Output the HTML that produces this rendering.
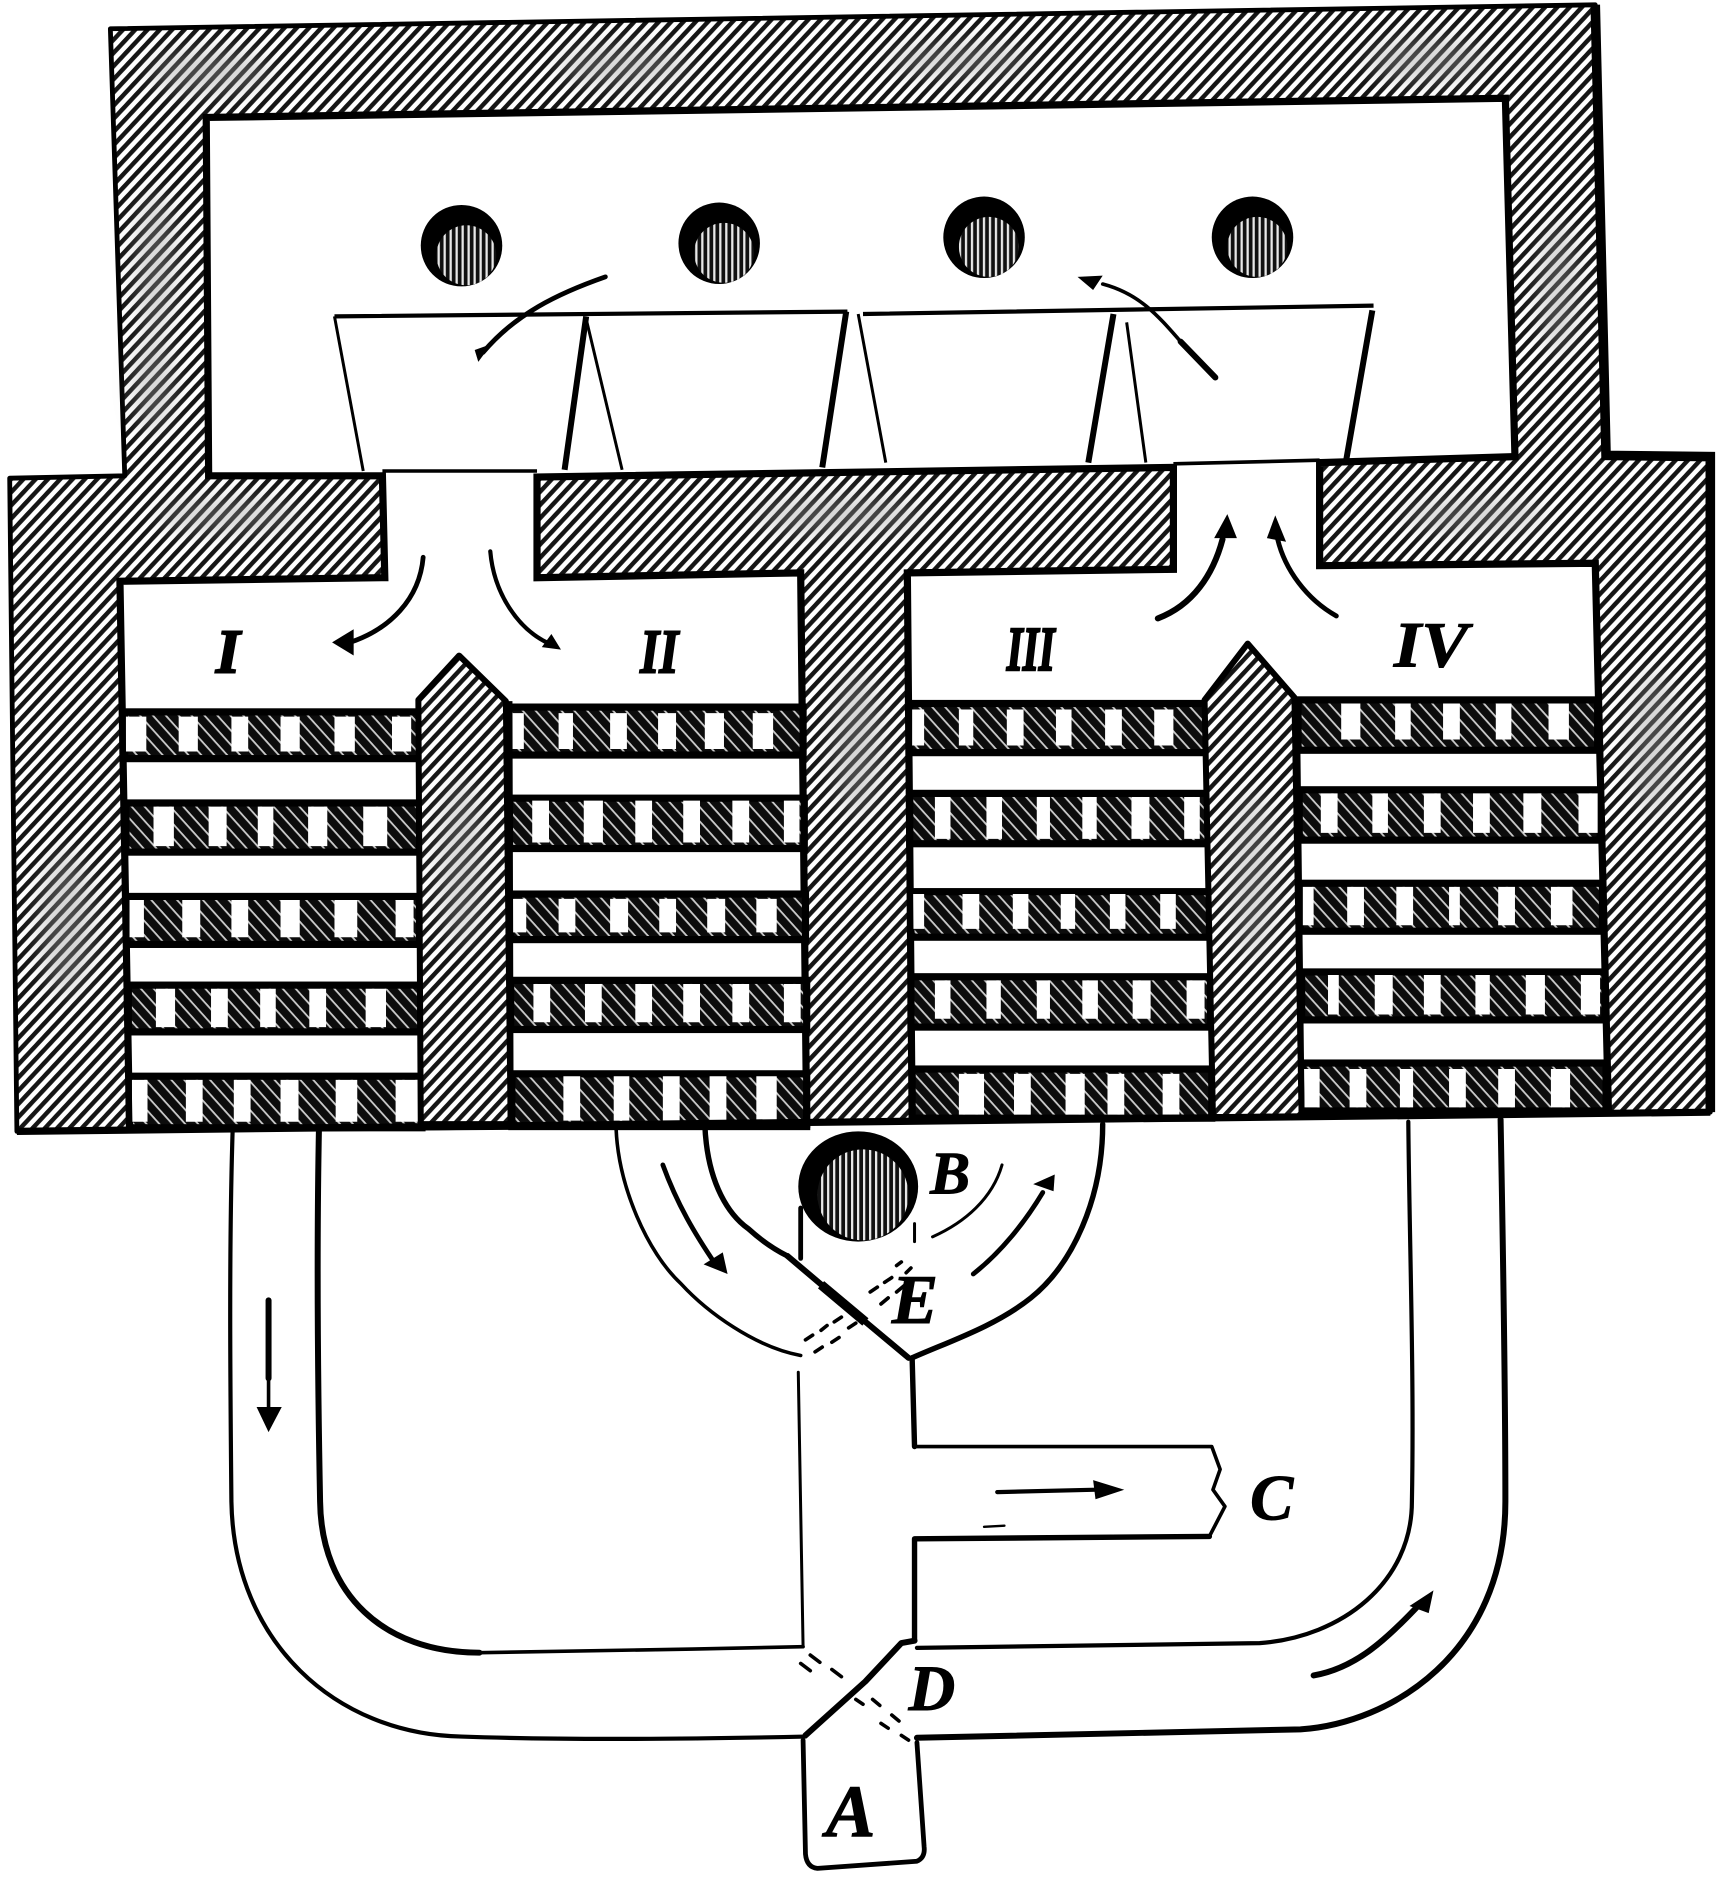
<!DOCTYPE html>
<html><head><meta charset="utf-8"><style>
html,body{margin:0;padding:0;background:#fff;width:1726px;height:1878px;overflow:hidden}
svg{display:block}
text{font-family:"Liberation Serif",serif;font-weight:bold;font-style:italic;fill:#000;stroke:#000;stroke-width:.8}
</style></head><body>
<svg width="1726" height="1878" viewBox="0 0 1440 1567" xmlns="http://www.w3.org/2000/svg">
<defs>
<pattern id="h" width="7.5" height="7.5" patternUnits="userSpaceOnUse" patternTransform="rotate(-47)">
<rect width="7.5" height="7.5" fill="#fff"/><rect width="7.5" height="3.7" fill="#151515"/></pattern>
<pattern id="x" width="8" height="8" patternUnits="userSpaceOnUse" patternTransform="rotate(48)">
<rect width="8" height="8" fill="#0c0c0c"/><rect width="8" height="1.5" fill="#ccc"/></pattern>
<pattern id="v" width="5" height="5" patternUnits="userSpaceOnUse">
<rect width="5" height="5" fill="#111"/><rect width="1.9" height="5" fill="#e8e8e8"/></pattern>
<filter id="b" x="-50%" y="-50%" width="200%" height="200%"><feGaussianBlur stdDeviation="9"/></filter>
</defs>
<rect width="1440" height="1567" fill="#fff"/>

<!-- masonry -->
<path d="M92 24L1331 4L1340 380L1427 381L1427 928L14 944L8 399L104 397Z" fill="url(#h)" stroke="#000" stroke-width="4" stroke-linejoin="round"/>
<g fill="#9a9a9a" opacity=".4" filter="url(#b)">
<ellipse cx="175" cy="60" rx="50" ry="18"/><ellipse cx="520" cy="55" rx="55" ry="16"/><ellipse cx="800" cy="50" rx="60" ry="14"/><ellipse cx="1190" cy="50" rx="50" ry="18"/>
<ellipse cx="130" cy="220" rx="16" ry="60"/><ellipse cx="128" cy="320" rx="16" ry="40"/><ellipse cx="1300" cy="240" rx="16" ry="55"/>
<ellipse cx="55" cy="770" rx="22" ry="60"/><ellipse cx="190" cy="430" rx="60" ry="14"/><ellipse cx="700" cy="430" rx="70" ry="16"/><ellipse cx="1230" cy="430" rx="60" ry="14"/>
<ellipse cx="385" cy="700" rx="22" ry="70"/><ellipse cx="715" cy="620" rx="20" ry="60"/><ellipse cx="1045" cy="720" rx="20" ry="70"/><ellipse cx="1380" cy="620" rx="20" ry="60"/>
</g>
<path d="M1331 4L1340 380L1427 381L1427 928" fill="none" stroke="#000" stroke-width="8"/>
<path d="M172 98L1256 82L1264 381L1101 386L1101 472L1331 470L1342 928L761 934L757 478L979 475L979 390L448 398L448 482L668 478L673 938L108 942L100 485L321 482L319 397L174 397Z" fill="#fff" stroke="#000" stroke-width="6" stroke-linejoin="miter"/>
<path d="M319 393L448 393M979 387L1101 384" stroke="#000" stroke-width="3" fill="none"/>

<!-- grids -->
<g stroke="#000" stroke-width="6" fill="url(#x)">
<rect x="104" y="594" width="246" height="39"/><rect x="105" y="670" width="245" height="41"/><rect x="106" y="748" width="244" height="40"/><rect x="107" y="822" width="244" height="39"/><rect x="108" y="898" width="244" height="43"/>
<rect x="424" y="590" width="246" height="40"/><rect x="425" y="666" width="246" height="42"/><rect x="426" y="746" width="246" height="38"/><rect x="426" y="818" width="247" height="41"/><rect x="427" y="896" width="246" height="44"/>
<rect x="759" y="587" width="248" height="41"/><rect x="759" y="662" width="249" height="42"/><rect x="760" y="744" width="249" height="38"/><rect x="760" y="815" width="250" height="42"/><rect x="761" y="892" width="250" height="41"/>
<rect x="1083" y="584" width="250" height="42"/><rect x="1084" y="659" width="251" height="42"/><rect x="1085" y="737" width="252" height="40"/><rect x="1086" y="811" width="253" height="40"/><rect x="1087" y="887" width="253" height="40"/>
</g>
<g stroke="#fff" fill="none">
<path stroke-width="29" d="M105 612.5H122M149 612.5H165M193 612.5H207M234 612.5H250M279 612.5H296M327 612.5H343"/>
<path stroke-width="33" d="M128 689.5H145M174 689.5H189M215 689.5H228M257 689.5H273M303 689.5H323"/>
<path stroke-width="31" d="M108 766.5H120M152 766.5H167M193 766.5H207M234 766.5H250M279 766.5H298M330 766.5H345"/>
<path stroke-width="32" d="M130 841H146M176 841H190M217 841H230M258 841H272M305 841H322"/>
<path stroke-width="35" d="M110 918.5H123M155 918.5H169M195 918.5H209M234 918.5H249M280 918.5H298M330 918.5H349"/>

<path stroke-width="30" d="M427 610H437M466 610H478M509 610H523M549 610H564M588 610H604M628 610H645"/>
<path stroke-width="35" d="M444 685.5H458M487 685.5H503M530 685.5H544M570 685.5H584M611 685.5H625M654 685.5H667"/>
<path stroke-width="28" d="M428 764H439M466 764H480M509 764H524M550 764H564M590 764H605M631 764H648"/>
<path stroke-width="32" d="M445 837H459M488 837H502M530 837H544M570 837H584M611 837H625M654 837H668"/>
<path stroke-width="37" d="M470 916.5H484M512 916.5H525M553 916.5H567M592 916.5H606M631 916.5H648"/>

<path stroke-width="30" d="M761 607H771M800 607H812M840 607H854M881 607H894M922 607H936M963 607H979"/>
<path stroke-width="35" d="M780 682.5H793M823 682.5H836M865 682.5H876M903 682.5H915M944 682.5H959M988 682.5H1001"/>
<path stroke-width="29" d="M761 760.5H771M803 760.5H817M845 760.5H858M885 760.5H897M926 760.5H939M968 760.5H981"/>
<path stroke-width="32" d="M780 834H793M823 834H835M865 834H876M903 834H916M945 834H960M990 834H1005"/>
<path stroke-width="34" d="M800 913H821M846 913H860M889 913H905M924 913H938M970 913H984"/>

<path stroke-width="30" d="M1119 602H1135M1164 602H1177M1204 602H1218M1248 602H1261M1292 602H1309"/>
<path stroke-width="33" d="M1102 678.5H1116M1145 678.5H1158M1188 678.5H1202M1229 678.5H1243M1271 678.5H1286M1317 678.5H1333"/>
<path stroke-width="32" d="M1087 756H1096M1124 756H1138M1165 756H1179M1209 756H1218M1250 756H1264M1294 756H1312"/>
<path stroke-width="33" d="M1108 830H1117M1147 830H1162M1188 830H1202M1231 830H1243M1273 830H1289M1319 830H1335"/>
<path stroke-width="32" d="M1087 908H1101M1126 908H1140M1168 908H1179M1209 908H1223M1250 908H1264M1294 908H1310"/>
</g>

<!-- piers -->
<path d="M349 584L383 547L422 585L426 938L351 938Z" fill="url(#h)" stroke="#000" stroke-width="5" stroke-linejoin="round"/>
<path d="M1005 584L1041 537L1080 582L1086 932L1012 932Z" fill="url(#h)" stroke="#000" stroke-width="5" stroke-linejoin="round"/>
<g fill="#9a9a9a" opacity=".35" filter="url(#b)"><ellipse cx="385" cy="720" rx="20" ry="70"/><ellipse cx="1045" cy="730" rx="20" ry="70"/></g>
<path d="M14 944L1427 928" stroke="#000" stroke-width="6" fill="none"/>
<path d="M425 585L426 938M1082 584L1086 932M100 485L108 942M757 478L761 934" stroke="#000" stroke-width="5" fill="none"/>

<!-- flues -->
<g fill="none" stroke="#000" stroke-linejoin="round">
<path stroke-width="3.5" d="M279 264L707 260M720 262L1146 255"/>
<path stroke-width="2.5" d="M279 264L303 393M489 266L519 392M716 262L739 386M940 269L956 386"/>
<path stroke-width="5" d="M489 264L471 392M706 260L686 390M929 262L908 386M1145 259L1123 385"/>
</g>

<!-- fire pipes -->
<circle cx="385" cy="205" r="34" fill="#000"/><circle cx="389" cy="213" r="25" fill="url(#v)"/>
<circle cx="600" cy="203" r="34" fill="#000"/><circle cx="604" cy="211" r="25" fill="url(#v)"/>
<circle cx="821" cy="198" r="34" fill="#000"/><circle cx="825" cy="206" r="25" fill="url(#v)"/>
<circle cx="1045" cy="198" r="34" fill="#000"/><circle cx="1049" cy="206" r="25" fill="url(#v)"/>
<ellipse cx="716" cy="990" rx="50" ry="46" fill="#000"/><circle cx="720" cy="997" r="38" fill="url(#v)"/>

<!-- arrows -->
<g fill="none" stroke="#000" stroke-linecap="round">
<path stroke-width="4" d="M505 231C465 245 430 262 403 294"/>
<path stroke-width="3" d="M920 237C950 245 965 262 985 285"/>
<path stroke-width="5" d="M985 285L1014 315"/>
<path stroke-width="4" d="M353 465C350 500 325 525 292 536"/>
<path stroke-width="3.5" d="M409 460C412 495 432 525 458 537"/>
<path stroke-width="5" d="M966 516C995 505 1012 480 1020 450"/>
<path stroke-width="4" d="M1115 514C1090 500 1072 475 1066 450"/>
<path stroke-width="5" d="M224 1085L224 1150"/>
<path stroke-width="3" d="M224 1150L224 1178"/>
<path stroke-width="4" d="M553 972C565 1005 580 1030 597 1055"/>
<path stroke-width="4" d="M812 1063C835 1045 855 1020 870 995"/>
<path stroke-width="2.5" d="M778 1032C805 1020 828 1000 836 972"/>
<path stroke-width="3.5" d="M832 1245L915 1243"/>
<path stroke-width="5" d="M1096 1398C1130 1392 1155 1370 1185 1338"/>
</g>
<g fill="#000">
<path d="M399 302L396 292L410 287Z"/>
<path d="M899 231L920 230L912 242Z"/>
<path d="M277 536L295 525L295 547Z"/>
<path d="M468 542L452 540L460 529Z"/>
<path d="M1024 429L1032 449L1013 449Z"/>
<path d="M1064 430L1073 452L1057 449Z"/>
<path d="M224 1195L214 1174L235 1174Z"/>
<path d="M607 1063L587 1055L603 1045Z"/>
<path d="M880 980L879 994L862 988Z"/>
<path d="M938 1243L912 1235L914 1251Z"/>
<path d="M1196 1327L1192 1346L1176 1340Z"/>
</g>

<!-- ducts -->
<g fill="none" stroke="#000" stroke-linejoin="round" stroke-linecap="round">
<path stroke-width="3.5" d="M194 944C191 1040 192 1150 193 1253C195 1370 280 1447 385 1449C470 1452 580 1451 672 1449"/>
<path stroke-width="5" d="M266 944C264 1050 265 1150 267 1253C268 1330 320 1379 400 1379"/>
<path stroke-width="3" d="M400 1379C480 1378 580 1376 670 1374"/>
<path stroke-width="3" d="M514 942C516 990 540 1045 568 1071C590 1095 630 1124 668 1131"/>
<path stroke-width="4.5" d="M588 938C590 990 610 1015 624 1025C635 1035 645 1042 657 1048"/>
<path stroke-width="4.5" d="M920 938C920 1000 895 1055 860 1083C830 1107 790 1120 761 1133"/>
<path stroke-width="2.5" d="M666 1145L670 1374"/>
<path stroke-width="4" d="M668 1008L668 1050"/>
<path stroke-width="2.5" d="M763 1021L763 1036"/>
<path stroke-width="5" d="M657 1048L709 1092L758 1133"/>
<path stroke-width="8" d="M685 1072L722 1103" stroke-linecap="butt"/>
<path stroke-width="4.5" d="M761 1133L763 1207"/>
<path stroke-width="3" d="M763 1207L1011 1207L1018 1226L1012 1243L1022 1257L1009 1282"/>
<path stroke-width="4.5" d="M1009 1282L763 1284L763 1369"/>
<path stroke-width="5" d="M672 1448L722 1403L752 1371L763 1369"/>
<path stroke-width="3.5" d="M765 1375L1051 1371C1120 1366 1178 1320 1178 1253C1180 1150 1176 1040 1175 936"/>
<path stroke-width="5" d="M765 1450L1085 1443C1160 1438 1256 1380 1256 1253C1256 1150 1254 1040 1252 934"/>
<path stroke-width="4" d="M670 1452L672 1547Q673 1558 682 1559L765 1553Q772 1550 771 1541L765 1454"/>
<path stroke-width="2" d="M821 1274L838 1273"/>
<path stroke-width="3" d="M672 1118L678 1114M685 1110L690 1106M696 1103L702 1099M726 1078L732 1074M738 1070L744 1066M748 1056L752 1053"/>
<path stroke-width="3" d="M680 1128L686 1124M694 1120L700 1116M708 1108L714 1104M735 1088L741 1083M748 1078L754 1073M756 1062L760 1058"/>
<path stroke-width="3" d="M676 1381L684 1387M694 1393L702 1399M728 1418L734 1423M744 1431L750 1436"/>
<path stroke-width="3" d="M668 1388L676 1394M714 1418L720 1422M735 1438L741 1442M752 1448L758 1452"/>
</g>

<!-- labels -->
<text x="180" y="561" font-size="52" stroke-width="1.5" style="stroke-width:1.6">I</text>
<text x="534" y="561" font-size="52" textLength="32" lengthAdjust="spacingAndGlyphs" style="stroke-width:1.6">II</text>
<text x="840" y="559" font-size="52" textLength="40" lengthAdjust="spacingAndGlyphs" style="stroke-width:2">III</text>
<text x="1163" y="556" font-size="54" textLength="62" lengthAdjust="spacingAndGlyphs">IV</text>
<text x="776" y="996" font-size="50">B</text>
<text x="744" y="1104" font-size="58">E</text>
<text x="1043" y="1268" font-size="54">C</text>
<text x="758" y="1427" font-size="54">D</text>
<text x="689" y="1532" font-size="62">A</text>
</svg>
</body></html>
